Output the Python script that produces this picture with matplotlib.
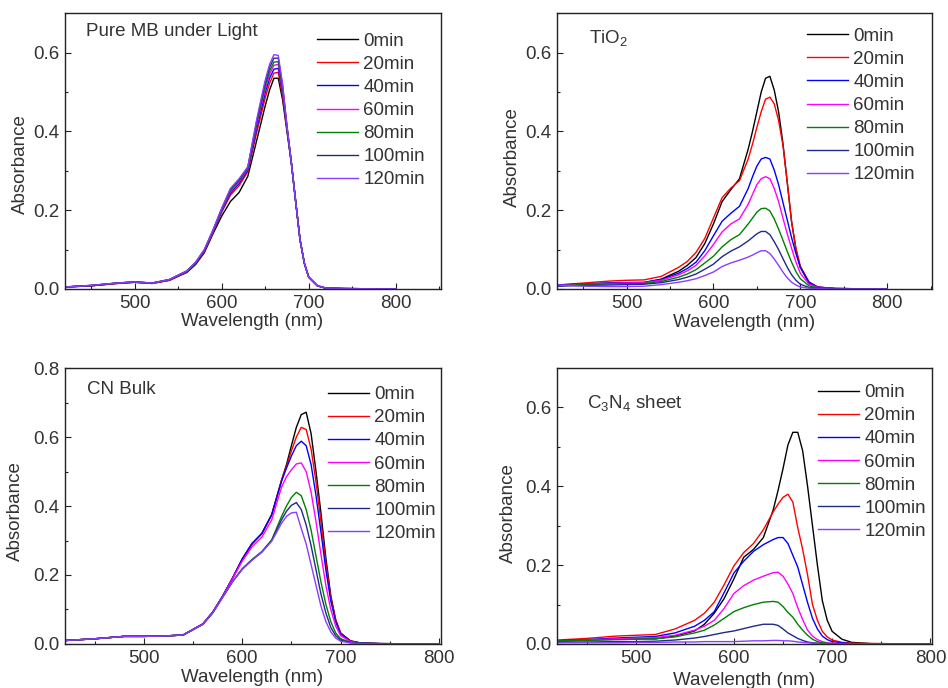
import matplotlib
matplotlib.use("Agg")
import matplotlib.pyplot as plt
from matplotlib.ticker import MultipleLocator, FormatStrFormatter

plt.rcParams['font.family'] = ['Liberation Sans', 'DejaVu Sans']
plt.rcParams['mathtext.default'] = 'regular'

# ---------------- data ----------------
wl = [420, 450, 480, 500, 520, 540, 560, 570, 580, 590, 600, 610, 620, 630, 640,
      645, 650, 655, 660, 665, 670, 675, 680, 685, 690, 695, 700, 710, 720, 740, 800]

labels = ['0min', '20min', '40min', '60min', '80min', '100min', '120min']
colors = ['#000000', '#ff0000', '#0000ff', '#ff00ff', '#008000', '#1f2a8a', '#8c3cff']

# Pure MB under Light
mb_0 = [.005, .008, .014, .017, .014, .022, .042, .062, .092, .140, .185, .222, .245, .286, .375,
        .420, .465, .505, .535, .535, .480, .400, .320, .222, .125, .065, .030, .008, .002, .001, 0]
mb_20 = [.005, .008, .014, .017, .014, .022, .043, .064, .095, .143, .195, .238, .262, .298, .395,
         .440, .485, .522, .548, .550, .490, .405, .321, .222, .125, .065, .030, .008, .002, .001, 0]
mb_40 = [.005, .008, .015, .017, .015, .023, .044, .065, .096, .145, .198, .243, .268, .302, .405,
         .452, .498, .535, .558, .560, .500, .408, .321, .222, .125, .065, .030, .008, .002, .001, 0]
mb_60 = [.005, .009, .015, .018, .015, .023, .045, .066, .097, .146, .200, .247, .272, .305, .412,
         .462, .508, .545, .568, .570, .505, .410, .322, .222, .125, .065, .030, .008, .002, .001, 0]
mb_80 = [.005, .009, .015, .018, .015, .024, .045, .067, .098, .148, .202, .250, .275, .307, .418,
         .468, .515, .553, .576, .577, .510, .412, .322, .222, .125, .065, .030, .008, .002, .001, 0]
mb_100 = [.005, .009, .015, .018, .015, .024, .046, .067, .099, .149, .204, .253, .278, .309, .423,
          .474, .523, .562, .586, .586, .515, .413, .322, .222, .125, .065, .030, .008, .002, .001, 0]
mb_120 = [.005, .009, .015, .018, .015, .024, .046, .068, .100, .150, .205, .255, .280, .310, .428,
          .480, .530, .570, .595, .593, .520, .415, .322, .222, .125, .065, .030, .008, .002, .001, 0]

# TiO2
ti_0 = [.008, .012, .015, .015, .016, .025, .045, .060, .080, .115, .165, .222, .252, .280, .355,
        .400, .450, .500, .535, .540, .505, .450, .370, .270, .170, .100, .055, .015, .004, .001, 0]
ti_20 = [.010, .015, .020, .022, .023, .032, .055, .070, .093, .128, .180, .232, .256, .275, .330,
         .368, .410, .450, .482, .487, .470, .428, .365, .270, .170, .103, .058, .018, .005, .001, 0]
ti_40 = [.010, .013, .015, .016, .017, .024, .040, .052, .068, .097, .135, .172, .192, .210, .255,
         .285, .312, .330, .334, .330, .302, .265, .220, .175, .130, .090, .055, .017, .005, .001, 0]
ti_60 = [.009, .012, .014, .015, .016, .022, .036, .046, .060, .084, .113, .145, .165, .178, .215,
         .240, .265, .280, .285, .280, .255, .222, .180, .140, .103, .068, .040, .012, .004, .001, 0]
ti_80 = [.008, .011, .013, .013, .014, .019, .030, .038, .049, .066, .083, .107, .125, .138, .165,
         .180, .195, .204, .205, .198, .178, .152, .124, .095, .068, .044, .026, .008, .003, .001, 0]
ti_100 = [.007, .009, .010, .011, .012, .016, .024, .030, .038, .050, .063, .082, .096, .107, .122,
          .131, .140, .146, .146, .138, .120, .100, .077, .055, .036, .022, .012, .004, .002, .001, 0]
ti_120 = [.010, .007, .006, .006, .007, .011, .017, .021, .026, .034, .043, .057, .066, .073, .081,
          .086, .092, .097, .097, .090, .076, .060, .043, .028, .017, .010, .005, .002, .001, 0, 0]

# CN Bulk
cn_0 = [.010, .015, .022, .022, .023, .026, .058, .092, .138, .190, .245, .290, .320, .375, .475,
        .520, .575, .628, .665, .672, .610, .500, .380, .250, .140, .070, .032, .009, .003, .001, 0]
cn_20 = [.010, .015, .022, .022, .023, .026, .058, .092, .138, .190, .245, .290, .320, .375, .475,
         .515, .560, .600, .628, .622, .565, .470, .355, .235, .135, .070, .031, .009, .003, .001, 0]
cn_40 = [.010, .015, .022, .022, .023, .026, .058, .092, .138, .190, .247, .292, .321, .375, .472,
         .510, .545, .575, .588, .575, .520, .430, .325, .215, .125, .064, .029, .008, .003, .001, 0]
cn_60 = [.010, .015, .022, .022, .023, .026, .058, .092, .137, .188, .240, .282, .310, .360, .455,
         .485, .505, .522, .525, .500, .440, .355, .260, .170, .100, .052, .024, .007, .002, .001, 0]
cn_80 = [.010, .015, .022, .022, .023, .026, .057, .090, .135, .180, .218, .245, .268, .302, .370,
         .400, .425, .440, .430, .390, .330, .255, .180, .115, .065, .032, .015, .005, .002, .001, 0]
cn_100 = [.010, .015, .022, .022, .023, .026, .057, .090, .135, .180, .217, .244, .267, .300, .360,
          .385, .402, .410, .390, .345, .285, .215, .145, .090, .048, .024, .011, .004, .002, .001, 0]
cn_120 = [.010, .015, .022, .022, .023, .026, .057, .090, .135, .180, .216, .243, .266, .298, .350,
          .370, .380, .382, .335, .290, .230, .170, .110, .065, .035, .017, .008, .003, .001, 0, 0]

# C3N4 sheet
cs_0 = [.008, .010, .012, .013, .013, .020, .033, .050, .078, .115, .165, .220, .240, .270, .340,
        .390, .445, .505, .537, .537, .490, .400, .300, .200, .110, .060, .032, .012, .004, .001, 0]
cs_20 = [.010, .014, .020, .022, .024, .038, .060, .078, .106, .150, .198, .232, .255, .290, .335,
         .355, .372, .380, .360, .295, .240, .175, .100, .060, .032, .018, .010, .004, .002, .001, 0]
cs_40 = [.008, .011, .015, .017, .019, .028, .045, .060, .082, .130, .180, .210, .235, .252, .265,
         .270, .270, .255, .225, .195, .150, .105, .065, .038, .020, .011, .006, .003, .001, 0, 0]
cs_60 = [.007, .010, .013, .015, .016, .022, .035, .045, .060, .090, .128, .148, .162, .172, .181,
         .182, .172, .152, .128, .092, .062, .035, .020, .011, .006, .003, .002, .001, 0, 0, 0]
cs_80 = [.008, .009, .011, .012, .013, .018, .028, .035, .048, .065, .082, .092, .100, .106, .108,
         .106, .095, .080, .068, .050, .035, .022, .012, .006, .003, .002, .001, 0, 0, 0, 0]
cs_100 = [.005, .005, .006, .006, .007, .010, .015, .019, .024, .029, .033, .039, .045, .050, .050,
          .047, .038, .028, .021, .014, .009, .005, .003, .002, .001, 0, 0, 0, 0, 0, 0]
cs_120 = [.003, .003, .003, .004, .004, .005, .005, .006, .006, .006, .006, .007, .008, .008, .009,
          .009, .008, .008, .007, .005, .004, .003, .002, .001, 0, 0, 0, 0, 0, 0, 0]

panels = [
    dict(series=[mb_0, mb_20, mb_40, mb_60, mb_80, mb_100, mb_120], title='Pure MB under Light',
         xlim=(420, 852), ylim=(0, 0.7), pos=[0.0686, 0.580, 0.3966, 0.4007],
         tpos=(0.056, 0.933), lpos=(0.670, 0.930), ylab=(-0.096, 0.453), xlab_y=-0.087),
    dict(series=[ti_0, ti_20, ti_40, ti_60, ti_80, ti_100, ti_120], title='TiO$_2$',
         xlim=(420, 852), ylim=(0, 0.7), pos=[0.5876, 0.580, 0.3959, 0.4007],
         tpos=(0.085, 0.911), lpos=(0.665, 0.948), ylab=(-0.097, 0.479), xlab_y=-0.09),
    dict(series=[cn_0, cn_20, cn_40, cn_60, cn_80, cn_100, cn_120], title='CN Bulk',
         xlim=(420, 802), ylim=(0, 0.8), pos=[0.0686, 0.064, 0.3966, 0.401],
         tpos=(0.058, 0.921), lpos=(0.699, 0.935), ylab=(-0.11, 0.48), xlab_y=-0.09),
    dict(series=[cs_0, cs_20, cs_40, cs_60, cs_80, cs_100, cs_120], title='C$_3$N$_4$ sheet',
         xlim=(420, 802), ylim=(0, 0.7), pos=[0.5876, 0.064, 0.3959, 0.401],
         tpos=(0.081, 0.873), lpos=(0.695, 0.942), ylab=(-0.108, 0.476), xlab_y=-0.10),
]

text_color = '#333333'
fs = 13.5
fig = plt.figure(figsize=(9.48, 6.88), dpi=100)
for p in panels:
    ax = fig.add_axes(p['pos'])
    for s, lab, c in zip(p['series'], labels, colors):
        ax.plot(wl, s, color=c, lw=1.0, label=lab)
    ax.set_xlim(*p['xlim'])
    ax.set_ylim(*p['ylim'])
    ax.xaxis.set_major_locator(MultipleLocator(100))
    ax.xaxis.set_minor_locator(MultipleLocator(50))
    ax.yaxis.set_major_locator(MultipleLocator(0.2))
    ax.yaxis.set_minor_locator(MultipleLocator(0.1))
    ax.yaxis.set_major_formatter(FormatStrFormatter('%.1f'))
    ax.tick_params(which='both', direction='in', top=False, right=False,
                   labelsize=fs, labelcolor=text_color, color='#222222', width=0.8)
    ax.tick_params(which='major', length=4, pad=4)
    ax.tick_params(which='minor', length=2)
    for sp in ax.spines.values():
        sp.set_color('#222222')
        sp.set_linewidth(1.0)
    ax.set_xlabel('Wavelength (nm)', fontsize=fs, color=text_color)
    ax.set_ylabel('Absorbance', fontsize=fs, color=text_color)
    ax.yaxis.set_label_coords(*p['ylab'])
    ax.xaxis.set_label_coords(0.497, p['xlab_y'])
    ax.text(p['tpos'][0], p['tpos'][1], p['title'], transform=ax.transAxes,
            fontsize=fs, color=text_color, va='center', ha='left')
    leg = ax.legend(loc='upper left', bbox_to_anchor=p['lpos'], frameon=False,
                    fontsize=fs, handlelength=2.2, handletextpad=0.28,
                    labelspacing=0.32, borderpad=0, borderaxespad=0)
    for t in leg.get_texts():
        t.set_color(text_color)

fig.savefig('out.png', dpi=100)
